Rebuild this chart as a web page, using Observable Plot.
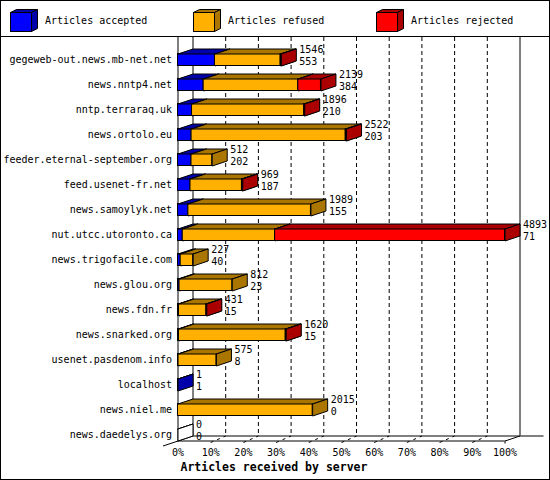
<!DOCTYPE html>
<html><head><meta charset="utf-8">
<script src="https://cdn.jsdelivr.net/npm/d3@7"></script>
<script src="https://cdn.jsdelivr.net/npm/@observablehq/plot@0.6"></script>
<style>
html,body{margin:0;padding:0;background:#fff;}
#chart{position:relative;width:548px;height:478px;border:1px solid #000;background:#fff;overflow:hidden;font-family:"DejaVu Sans Mono",monospace;color:#000;}
#legend{position:relative;height:35px;border-bottom:1px solid #000;}
.item{position:absolute;top:0;height:35px;}
.item svg{position:absolute;top:8px;left:0;}
.item span{position:absolute;left:35px;top:14px;line-height:12px;font-size:10px;white-space:nowrap;}
#plot svg{display:block;}
</style>
</head><body>
<div id="chart"><div id="legend"></div><div id="plot"></div></div>
<script>
// ---- data ----
const hosts = ["gegeweb-out.news.mb-net.net","news.nntp4.net","nntp.terraraq.uk","news.ortolo.eu",
  "feeder.eternal-september.org","feed.usenet-fr.net","news.samoylyk.net","nut.utcc.utoronto.ca",
  "news.trigofacile.com","news.glou.org","news.fdn.fr","news.snarked.org","usenet.pasdenom.info",
  "localhost","news.niel.me","news.daedelys.org"];
const totals   = [1546, 2139, 1896, 2522, 512, 969, 1989, 4893, 227, 812, 431, 1620, 575, 1, 2015, 0];
const accepted = [553, 384, 210, 203, 202, 187, 155, 71, 40, 23, 15, 15, 8, 1, 0, 0];
const refused  = [983, 1416, 1678, 2307, 310, 770, 1834, 1382, 187, 789, 410, 1597, 567, 0, 2015, 0];
const rejected = [10, 339, 8, 12, 0, 12, 0, 3440, 0, 0, 6, 8, 0, 0, 0, 0];
const seriesNames = ["Articles accepted", "Articles refused", "Articles rejected"];
const tickPercents = [0, 10, 20, 30, 40, 50, 60, 70, 80, 90, 100];
const axisTitle = "Articles received by server";

// ---- style ----
const frontColors = ["#0000ff", "#ffb000", "#ff0000", "#ffffff"];
const sideColors  = ["#0000aa", "#aa7600", "#aa0000", "#ffffff"];

// legend
const legend = document.getElementById("legend");
const legendLeft = [9, 192, 375];
seriesNames.forEach((name, s) => {
  const it = document.createElement("div");
  it.className = "item";
  it.style.left = legendLeft[s] + "px";
  it.innerHTML = `<svg width="29" height="24">
    <polygon points="0.5,3.5 21.5,3.5 27.5,0.5 6.5,0.5" fill="${sideColors[s]}" stroke="#000"/>
    <polygon points="21.5,3.5 27.5,0.5 27.5,19.5 21.5,22.5" fill="${sideColors[s]}" stroke="#000"/>
    <rect x="0.5" y="3.5" width="21" height="19" fill="${frontColors[s]}" stroke="#000"/></svg><span>${name}</span>`;
  legend.appendChild(it);
});

// ---- geometry (depth offsets in data units) ----
const maxTotal = d3.max(totals);
const PX = maxTotal / 327;        // counts per pixel
const ROW = 1 / 25;               // rows per pixel
const DX = 15 * PX;
const DY = -5 * ROW;
const HALF = 6 * ROW;
const floorY = hosts.length - 1 + HALF;
const topY = -22.5 * ROW;

const seriesValues = [accepted, refused, rejected];
const segs = [];
hosts.forEach((h, i) => {
  let x0 = 0;
  seriesValues.forEach((vals, s) => {
    const v = vals[i];
    if (v > 0) segs.push({s, i, x0, x1: x0 + v});
    x0 += v;
  });
  if (totals[i] === 0) segs.push({s: 3, i, x0: 0, x1: 0});
});

function topPoly(d) { const y = d.i - HALF; return [[d.x0,y],[d.x1,y],[d.x1+DX,y+DY],[d.x0+DX,y+DY],[d.x0,y]]; }
function sidePoly(d) { const yt = d.i - HALF, yb = d.i + HALF; return [[d.x1,yt],[d.x1+DX,yt+DY],[d.x1+DX,yb+DY],[d.x1,yb],[d.x1,yt]]; }

const marks = [];
const innerTicks = tickPercents.slice(1, -1).map(p => p / 100 * maxTotal);

// gridlines on the back wall
marks.push(Plot.ruleX(innerTicks, {x: d => d + DX, y1: () => topY, y2: () => floorY + DY, stroke: "#000", strokeWidth: 1, strokeDasharray: "4,3"}));
// floor diagonals
marks.push(Plot.link(innerTicks, {x1: d => d, y1: () => floorY + 1.5 * ROW, x2: d => d + DX, y2: () => floorY + DY, stroke: "#000", strokeWidth: 1, strokeDasharray: "3,4"}));
// walls and floor
marks.push(Plot.ruleX([0], {y1: () => topY, y2: () => floorY, stroke: "#000", strokeWidth: 1}));
marks.push(Plot.ruleX([DX, maxTotal + DX], {y1: () => topY, y2: () => floorY + DY, stroke: "#000", strokeWidth: 1}));
marks.push(Plot.ruleY([floorY], {x1: () => 0, x2: () => maxTotal, stroke: "#000", strokeWidth: 1}));
marks.push(Plot.ruleY([floorY + DY], {x1: () => DX, x2: () => maxTotal + DX + 24 * PX, stroke: "#000", strokeWidth: 1}));
marks.push(Plot.link([0], {x1: () => -DX, y1: () => floorY - DY, x2: () => DX, y2: () => floorY + DY, stroke: "#000", strokeWidth: 1}));
marks.push(Plot.link([maxTotal], {x1: d => d, y1: () => floorY, x2: d => d + DX, y2: () => floorY + DY, stroke: "#000", strokeWidth: 1}));
marks.push(Plot.ruleX([maxTotal], {y1: () => floorY, y2: () => floorY + 3 * ROW, stroke: "#000", strokeWidth: 1}));

// 3D bars
for (let s = 0; s < 4; s++) {
  const ss = segs.filter(d => d.s === s);
  marks.push(Plot.rect(ss, {x1: "x0", x2: "x1", y1: d => d.i - HALF, y2: d => d.i + HALF,
    fill: frontColors[s], stroke: "#000", strokeWidth: 1}));
  const verts = ss.flatMap((d, k) => [
    ...topPoly(d).map(p => ({id: "t" + k, x: p[0], y: p[1]})),
    ...sidePoly(d).map(p => ({id: "s" + k, x: p[0], y: p[1]}))
  ]);
  marks.push(Plot.line(verts, {x: "x", y: "y", z: "id", fill: sideColors[s], stroke: "#000",
    strokeWidth: 1, strokeLinejoin: "miter", curve: "linear"}));
}

// labels
const idx = hosts.map((h, i) => i);
marks.push(Plot.text(idx, {x: () => 0, y: i => i, text: i => hosts[i], textAnchor: "end", dx: -6}));
marks.push(Plot.text(idx, {x: i => totals[i], y: i => i, text: i => String(totals[i]), textAnchor: "start", dx: 18, dy: -10.5}));
marks.push(Plot.text(idx, {x: i => totals[i], y: i => i, text: i => String(accepted[i]), textAnchor: "start", dx: 18, dy: 1.5}));
marks.push(Plot.text(tickPercents, {x: p => p / 100 * maxTotal, y: () => floorY, text: p => p + "%", dy: 12}));
marks.push(Plot.text([axisTitle], {x: () => 0, y: () => floorY, text: d => d, textAnchor: "start", dx: 2.5, dy: 26.5, fontWeight: "bold", fontSize: 11.5}));

const chart = Plot.plot({
  width: 548,
  height: 442,
  marginLeft: 176.5,
  marginRight: 44.5,
  marginTop: 22.5,
  marginBottom: 44.5,
  style: {fontFamily: "'DejaVu Sans Mono', monospace", fontSize: "10px", background: "#fff", color: "#000", overflow: "visible"},
  x: {domain: [0, maxTotal], axis: null},
  y: {domain: [0, hosts.length - 1], reverse: true, axis: null},
  marks
});
document.getElementById("plot").appendChild(chart);
</script>
</body></html>
